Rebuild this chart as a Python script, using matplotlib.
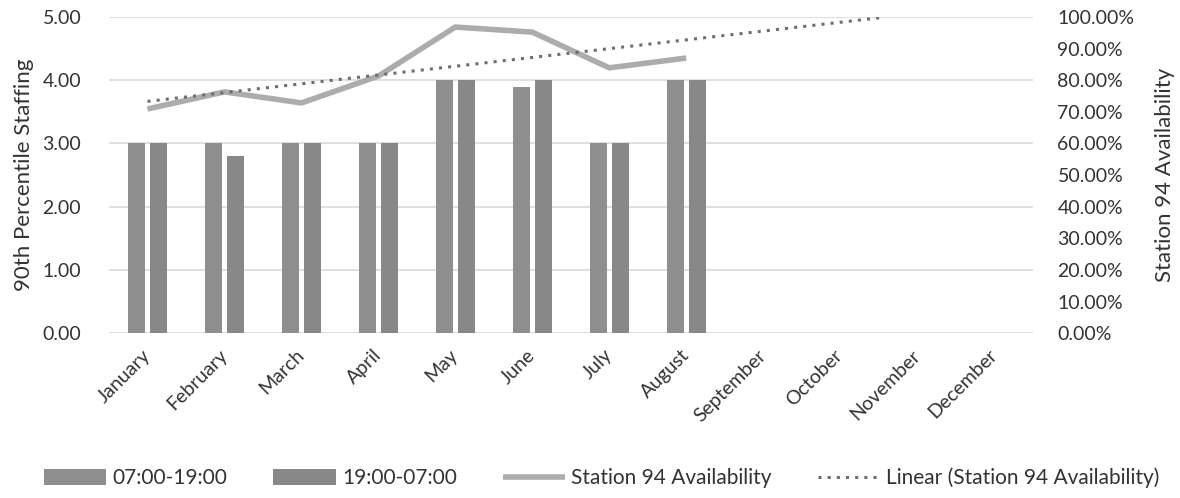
import numpy as np
import matplotlib
matplotlib.use("Agg")
import matplotlib.pyplot as plt
from matplotlib.ticker import FuncFormatter

months = ["January", "February", "March", "April", "May", "June", "July",
          "August", "September", "October", "November", "December"]
day_shift = [3.0, 3.0, 3.0, 3.0, 4.0, 3.9, 3.0, 4.0]      # 07:00-19:00
night_shift = [3.0, 2.8, 3.0, 3.0, 4.0, 4.0, 3.0, 4.0]    # 19:00-07:00
availability = [70.9, 76.3, 72.8, 81.3, 96.8, 95.2, 83.9, 87.0]  # %

plt.rcParams['font.family'] = ['Lato', 'DejaVu Sans']

fig = plt.figure(figsize=(11.8, 4.98), dpi=100)
ax = fig.add_axes([0.0924, 0.331, 0.7826, 0.635])
ax2 = ax.twinx()

x_all = np.arange(len(months))
xd = np.arange(len(day_shift))
w = 0.22
off = 0.145
bar_day = ax.bar(xd - off, day_shift, w, color="#8f8f8f", label="07:00-19:00", zorder=3)
bar_night = ax.bar(xd + off, night_shift, w, color="#888888", label="19:00-07:00", zorder=3)

ax.set_xlim(-0.5, len(months) - 0.5)
ax.set_ylim(0, 5)
ax.set_yticks(np.arange(0, 5.01, 1))
ax.yaxis.set_major_formatter(FuncFormatter(lambda v, p: f"{v:.2f}"))
ax.grid(axis="y", color="#d9d9d9", linewidth=1.2, zorder=0)
ax.set_axisbelow(True)
ax.set_xticks(x_all)
ax.set_xticklabels(months, rotation=45, ha="right", va="center", rotation_mode="anchor",
                   fontsize=14, color="#333333")
ax.tick_params(axis="x", length=0, pad=14)
ax.tick_params(axis="y", length=0, pad=20, labelsize=14, labelcolor="#333333")
ax.set_ylabel("90th Percentile Staffing", fontsize=16, color="#333333", labelpad=6)
for s in ax.spines.values():
    s.set_visible(False)

# availability line
avail = np.array(availability)
line, = ax2.plot(xd, avail, color="#acacac", linewidth=4, solid_capstyle="butt",
                 label="Station 94 Availability", zorder=4)
# linear trendline (fit on the data, extended forward)
coef = np.polyfit(xd, avail, 1)
xt = np.linspace(0, len(months) - 1, 200)
yt = np.polyval(coef, xt)
mask = yt <= 100
trend, = ax2.plot(xt[mask], yt[mask], color="#6e6e6e", linestyle=(0, (1, 2)),
                  linewidth=2.2, label="Linear (Station 94 Availability)", zorder=5)
ax2.set_ylim(0, 100)
ax2.set_yticks(np.arange(0, 100.1, 10))
ax2.yaxis.set_major_formatter(FuncFormatter(lambda v, p: f"{v:.2f}%"))
ax2.tick_params(axis="y", length=0, pad=18, labelsize=14, labelcolor="#333333")
ax2.set_ylabel("Station 94 Availability", fontsize=16, color="#333333", labelpad=15)
for s in ax2.spines.values():
    s.set_visible(False)

fig.legend(handles=[bar_day, bar_night, line, trend],
           labels=["07:00-19:00", "19:00-07:00", "Station 94 Availability",
                   "Linear (Station 94 Availability)"],
           loc="center", bbox_to_anchor=(0.51, 0.04), ncol=4, frameon=False,
           fontsize=15, handlelength=3.0, handleheight=0.8, columnspacing=2.2,
           handletextpad=0.3, labelcolor="#333333")

fig.savefig("out.png", dpi=100)
